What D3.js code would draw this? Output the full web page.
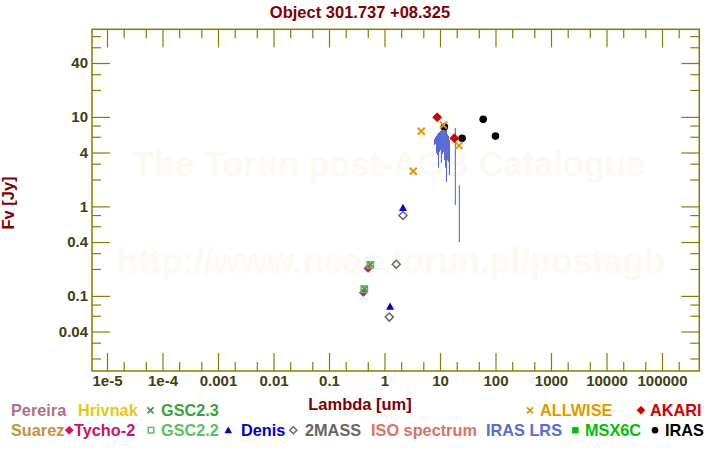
<!DOCTYPE html>
<html><head><meta charset="utf-8">
<script src="https://cdn.jsdelivr.net/npm/d3@7"></script>
<style>
body{margin:0;background:#fff}
svg{display:block}
text{font-family:"Liberation Sans",Arial,sans-serif;font-weight:bold}
</style>
</head><body>
<svg id="c" width="720" height="450"></svg>
<script>
// ---------------- data ----------------
const chartTitle = "Object 301.737 +08.325";
const xTitle = "Lambda [um]";
const yTitle = "Fv [Jy]";
const xTickValues = [1e-5, 1e-4, 1e-3, 1e-2, 0.1, 1, 10, 100, 1000, 10000, 100000];
const xTickLabels = ["1e-5", "1e-4", "0.001", "0.01", "0.1", "1", "10", "100", "1000", "10000", "100000"];
const yTickValues = [0.04, 0.1, 0.4, 1, 4, 10, 40];
const yTickLabels = ["0.04", "0.1", "0.4", "1", "4", "10", "40"];

// [lambda um, flux Jy]
const tycho2 = [[0.415, 0.109], [0.505, 0.203]];
const gsc22 = [[0.432, 0.119], [0.555, 0.222]];
const gsc23 = [[0.44, 0.12], [0.56, 0.225]];
const denis = [[1.26, 0.076], [2.15, 0.967]];
const twoMass = [[1.22, 0.058], [1.63, 0.226], [2.15, 0.79]];
const allwise = [[3.3, 2.47], [4.6, 6.9], [11.5, 8.1], [22, 4.78]];
const akari = [[8.9, 9.9], [18.1, 5.78]];
const iras = [[12, 7.77], [25, 5.78], [60, 9.4], [100, 6.1]];
// IRAS LRS spectrum: [lambda um, flux low, flux high]
const irasLrs = [
  [7.96, 4.86, 5.66], [8.30, 4.98, 5.96], [8.65, 3.95, 6.12], [9.02, 3.75, 6.44],
  [9.40, 2.71, 6.61], [9.79, 4.06, 6.78], [10.2, 4.27, 6.96], [10.6, 3.05, 7.71],
  [11.1, 3.85, 7.13], [11.6, 4.06, 6.96], [12.1, 3.30, 7.51], [12.6, 2.71, 7.13],
  [13.1, 1.87, 7.71], [13.6, 3.30, 6.44], [14.2, 3.13, 6.12], [14.8, 2.24, 5.52],
  [18.9, 1.04, 7.51], [22.3, 0.40, 1.73]
];
const legendRow1 = ["Pereira", "Hrivnak", "GSC2.3", "ALLWISE", "AKARI"];
const legendRow2 = ["Suarez", "Tycho-2", "GSC2.2", "Denis", "2MASS", "ISO spectrum", "IRAS LRS", "MSX6C", "IRAS"];

// ---------------- layout / style ----------------
const L = 92, R = 699.3, T = 29.3, B = 371;
const olive = "#808000", tickText = "#414110", dark = "#800000";
const col = {
  "Pereira": "#b07088", "Hrivnak": "#e8c810", "GSC2.3": "#3ca03c", "ALLWISE": "#e09a00",
  "AKARI": "#d00000", "Suarez": "#c8903c", "Tycho-2": "#d0106a", "GSC2.2": "#5cc05c",
  "Denis": "#0000cc", "2MASS": "#666666", "ISO spectrum": "#e07060", "IRAS LRS": "#5a6ad6",
  "MSX6C": "#00c000", "IRAS": "#000000"
};

const svg = d3.select("#c");
const x = d3.scaleLog().domain([Math.pow(10, -5.2703), Math.pow(10, 5.6721)]).range([L, R]);
const y = d3.scaleLog().domain([Math.pow(10, -1.8391), Math.pow(10, 1.9788)]).range([B, T]);

// watermark
const wm = svg.append("g").attr("fill", "#fcf9f2");
wm.append("text").attr("x", 389).attr("y", 176).attr("text-anchor", "middle")
  .attr("font-size", 35).attr("textLength", 512).attr("lengthAdjust", "spacingAndGlyphs")
  .text("The Torun post-AGB Catalogue");
wm.append("text").attr("x", 391).attr("y", 273).attr("text-anchor", "middle")
  .attr("font-size", 35).attr("textLength", 548).attr("lengthAdjust", "spacingAndGlyphs")
  .text("http://www.ncac.torun.pl/postagb");

// ticks
function minorVals(scale, mult) {
  const [a, b] = scale.domain(); const out = [];
  for (let k = -7; k <= 6; k++) for (const m of mult) {
    const v = m * Math.pow(10, k);
    if (v >= a && v <= b) out.push(v);
  }
  return out;
}
const xMinor = minorVals(x, [2, 5]);
const yMinor = minorVals(y, [2, 3, 6, 8]);
const yMajorAll = minorVals(y, [1, 4]);

function styleAxis(g) {
  g.select(".domain").remove();
  g.selectAll(".tick line").attr("stroke", olive).attr("stroke-width", 1.2);
  g.selectAll(".tick text").attr("fill", tickText).attr("font-size", 15)
    .attr("font-family", '"Liberation Sans",Arial,sans-serif').attr("font-weight", "bold");
}
// bottom
svg.append("g").attr("transform", `translate(0,${B})`)
  .call(d3.axisBottom(x).tickValues(xTickValues).tickFormat((d, i) => xTickLabels[i]).tickSizeInner(-18).tickSizeOuter(0).tickPadding(4.5))
  .call(styleAxis);
svg.append("g").attr("transform", `translate(0,${B})`)
  .call(d3.axisBottom(x).tickValues(xMinor).tickFormat("").tickSizeInner(-9).tickSizeOuter(0)).call(styleAxis);
// top
svg.append("g").attr("transform", `translate(0,${T})`)
  .call(d3.axisTop(x).tickValues(xTickValues).tickFormat("").tickSizeInner(-18).tickSizeOuter(0)).call(styleAxis);
svg.append("g").attr("transform", `translate(0,${T})`)
  .call(d3.axisTop(x).tickValues(xMinor).tickFormat("").tickSizeInner(-9).tickSizeOuter(0)).call(styleAxis);
// left
svg.append("g").attr("transform", `translate(${L},0)`)
  .call(d3.axisLeft(y).tickValues(yTickValues).tickFormat((d, i) => yTickLabels[i]).tickSizeInner(-18).tickSizeOuter(0).tickPadding(4))
  .call(styleAxis);
svg.append("g").attr("transform", `translate(${L},0)`)
  .call(d3.axisLeft(y).tickValues(yMinor).tickFormat("").tickSizeInner(-9).tickSizeOuter(0)).call(styleAxis);
// right
svg.append("g").attr("transform", `translate(${R},0)`)
  .call(d3.axisRight(y).tickValues(yMajorAll).tickFormat("").tickSizeInner(-18).tickSizeOuter(0)).call(styleAxis);
svg.append("g").attr("transform", `translate(${R},0)`)
  .call(d3.axisRight(y).tickValues(yMinor).tickFormat("").tickSizeInner(-9).tickSizeOuter(0)).call(styleAxis);

// frame
svg.append("rect").attr("x", L).attr("y", T).attr("width", R - L).attr("height", B - T)
  .attr("fill", "none").attr("stroke", olive).attr("stroke-width", 1.5);

// titles
svg.append("text").attr("x", 360).attr("y", 18).attr("text-anchor", "middle")
  .attr("font-size", 16.5).attr("fill", dark).text(chartTitle);
svg.append("text").attr("x", 360).attr("y", 410).attr("text-anchor", "middle")
  .attr("font-size", 16.5).attr("fill", dark).text(xTitle);
svg.append("text").attr("transform", "translate(14,203) rotate(-90)").attr("text-anchor", "middle")
  .attr("font-size", 16.5).attr("fill", dark).text(yTitle);

// marker helpers
function diamond(g, cx, cy, r, color, filled) {
  g.append("path").attr("d", `M${cx},${cy - r}L${cx + r},${cy}L${cx},${cy + r}L${cx - r},${cy}Z`)
    .attr("fill", filled ? color : "none").attr("stroke", color).attr("stroke-width", filled ? 0.8 : 1.5);
}
function cross(g, cx, cy, r, color, w) {
  g.append("path").attr("d", `M${cx - r},${cy - r}L${cx + r},${cy + r}M${cx - r},${cy + r}L${cx + r},${cy - r}`)
    .attr("stroke", color).attr("stroke-width", w || 2).attr("fill", "none");
}
function square(g, cx, cy, r, color, filled) {
  g.append("rect").attr("x", cx - r).attr("y", cy - r).attr("width", 2 * r).attr("height", 2 * r)
    .attr("fill", filled ? color : "none").attr("stroke", color).attr("stroke-width", filled ? 0.5 : 1.5);
}
function tri(g, cx, cy, r, color) {
  g.append("path").attr("d", `M${cx},${cy - r}L${cx + r},${cy + r * 0.8}L${cx - r},${cy + r * 0.8}Z`).attr("fill", color);
}
function circ(g, cx, cy, r, color) {
  g.append("circle").attr("cx", cx).attr("cy", cy).attr("r", r).attr("fill", color);
}

const plot = svg.append("g");
// IRAS LRS
plot.selectAll("line.lrs").data(irasLrs).join("line").attr("class", "lrs")
  .attr("x1", d => x(d[0])).attr("x2", d => x(d[0]))
  .attr("y1", d => y(d[1])).attr("y2", d => y(d[2]))
  .attr("stroke", col["IRAS LRS"]).attr("stroke-width", 1.1);
tycho2.forEach(d => diamond(plot, x(d[0]), y(d[1]), 4, col["Tycho-2"], true));
gsc22.forEach(d => square(plot, x(d[0]), y(d[1]), 3.2, col["GSC2.2"], false));
gsc23.forEach(d => cross(plot, x(d[0]), y(d[1]), 2.6, col["GSC2.3"], 1.8));
denis.forEach(d => tri(plot, x(d[0]), y(d[1]), 4, col["Denis"]));
twoMass.forEach(d => diamond(plot, x(d[0]), y(d[1]), 4, col["2MASS"], false));
iras.forEach(d => circ(plot, x(d[0]), y(d[1]), 3.8, col["IRAS"]));
allwise.forEach(d => cross(plot, x(d[0]), y(d[1]), 3.5, col["ALLWISE"], 2));
akari.forEach(d => diamond(plot, x(d[0]), y(d[1]), 4.5, col["AKARI"], true));

// legend
const lg = svg.append("g");
const row1Y = 415.8, row2Y = 435.7, fs = 16.3;
const row1Pos = { "Pereira": [11, null], "Hrivnak": [78, null], "GSC2.3": [161, "x", 150.5], "ALLWISE": [540, "x", 530], "AKARI": [650, "d", 641] };
const row2Pos = { "Suarez": [11, null], "Tycho-2": [74, "d", 69.3], "GSC2.2": [161, "s", 151], "Denis": [241, "t", 228.3],
  "2MASS": [305, "od", 293.3], "ISO spectrum": [371, null], "IRAS LRS": [486, null], "MSX6C": [585, "fs", 575.3], "IRAS": [665, "c", 655] };
function drawLegend(names, pos, by) {
  names.forEach(n => {
    const p = pos[n], c = col[n], my = by - 5.5;
    lg.append("text").attr("x", p[0]).attr("y", by).attr("font-size", fs).attr("fill", c).text(n);
    if (p[1] === "x") cross(lg, p[2], my, 3, c, 1.8);
    if (p[1] === "d") diamond(lg, p[2], my, 4, c, true);
    if (p[1] === "od") diamond(lg, p[2], my, 3.5, c, false);
    if (p[1] === "s") square(lg, p[2], my, 2.8, c, false);
    if (p[1] === "fs") square(lg, p[2], my, 3, c, true);
    if (p[1] === "t") tri(lg, p[2], my, 3.8, c);
    if (p[1] === "c") circ(lg, p[2], my, 3.3, c);
  });
}
drawLegend(legendRow1, row1Pos, row1Y);
drawLegend(legendRow2, row2Pos, row2Y);
</script>
</body></html>
